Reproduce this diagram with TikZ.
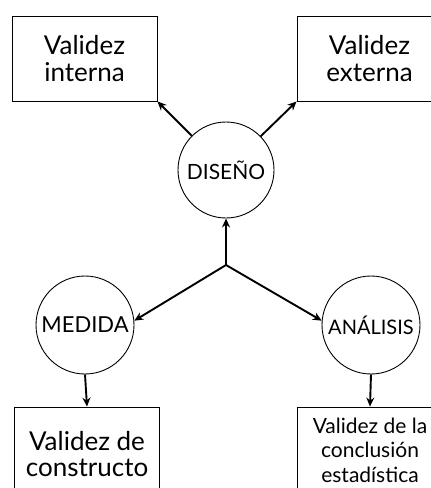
\documentclass[tikz,border=0pt]{standalone}
\usepackage{fontspec}
\setmainfont{Lato}
\usepackage{tikz}
\usetikzlibrary{arrows.meta}

\tikzset{
    caja/.style={draw, line width=.9pt, minimum width=145pt, align=center, font=\fontsize{26}{27}\selectfont},
    circulo/.style={draw, circle, line width=.9pt, inner sep=0pt, minimum size=98pt, font=\fontsize{22}{24}\selectfont},
    flecha/.style={line width=1.9pt, -{Stealth[length=9pt, width=8pt]}}
}

\begin{document}
\begin{tikzpicture}[x=1pt, y=-1pt]
    \useasboundingbox (0,0) rectangle (431,488);
    \clip (0,0) rectangle (431,488);
    \node[caja, minimum height=85pt] (interna) at (84.5,58.5) {Validez\\interna};
    \node[caja, minimum height=85pt] (externa) at (369.5,58.5) {Validez\\externa};
    \node[circulo, minimum size=96pt, font=\fontsize{21}{24}\selectfont] (diseno) at (226,170) {DISEÑO};
    \node[circulo] (medida) at (85,325) {MEDIDA};
    \node[circulo, font=\fontsize{20}{24}\selectfont] (analisis) at (371,325) {ANÁLISIS};
    \node[caja, minimum height=95pt, font=\fontsize{26}{26}\selectfont] (constructo) at (87,454.5) {Validez de\\constructo};
    \node[caja, minimum height=86pt, font=\fontsize{21}{24.5}\selectfont] (conclusion) at (370,450) {Validez de la\\conclusión\\estadística};
    \coordinate (cruce) at (226,265);
    \draw[flecha] (diseno) -- (interna.south east);
    \draw[flecha] (diseno) -- (externa.south west);
    \draw[flecha] (cruce) -- (diseno.south);
    \draw[flecha] (cruce) -- (medida.5);
    \draw[flecha] (cruce) -- (analisis.175);
    \draw[flecha] (medida.south) -- (constructo.north);
    \draw[flecha] (analisis.south) -- (conclusion.north);
\end{tikzpicture}
\end{document}
